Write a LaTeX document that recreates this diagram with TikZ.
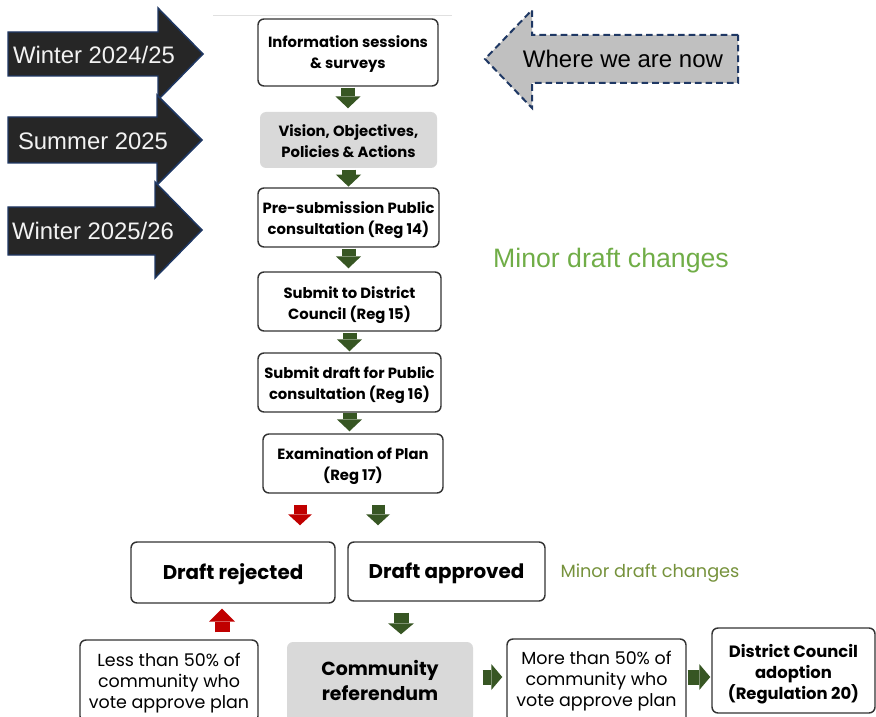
\documentclass[tikz,border=0pt]{standalone}
\usepackage{fontspec}
\setmainfont{Liberation Sans}
\newfontfamily\gothic{Poppins}
\usetikzlibrary{arrows.meta}
\definecolor{dkgreen}{HTML}{375623}
\definecolor{dkred}{HTML}{C00000}
\definecolor{lgreen}{HTML}{70AD47}
\definecolor{olive}{HTML}{76923C}
\definecolor{boxline}{HTML}{333333}
\definecolor{boxfill}{HTML}{D9D9D9}
\definecolor{navy}{HTML}{1F3864}
\definecolor{arrowfill}{HTML}{262626}
\definecolor{nowfill}{HTML}{C0C0C0}
\tikzset{
  sz/.style 2 args={minimum width=#1*0.75pt, minimum height=#2*0.75pt},
  box/.style={draw=boxline, line width=1.1pt, rounded corners=4.5pt, fill=white, inner sep=0pt},
  graybox/.style={box, draw=none, fill=boxfill},
  btext/.style={align=center, inner sep=0pt, font=\gothic\bfseries\fontsize{11.1}{15.75}\selectfont},
  bigtext/.style={btext, font=\gothic\bfseries\fontsize{14.9}{18}\selectfont},
  ptext/.style={btext, font=\gothic\fontsize{13.1}{15.75}\selectfont},
  gar/.style={draw=dkgreen, line width=10.5pt, -{Triangle[width=19pt,length=9pt,line width=0pt]}},
  gmid/.style={draw=dkgreen, line width=9.75pt, -{Triangle[width=18pt,length=8.25pt,line width=0pt]}},
  rmid/.style={draw=dkred, line width=9.75pt, -{Triangle[width=18pt,length=8.25pt,line width=0pt]}},
  gbig/.style={draw=dkgreen, line width=11.25pt, -{Triangle[width=19.5pt,length=8.25pt,line width=0pt]}},
  rbig/.style={draw=dkred, line width=11.25pt, -{Triangle[width=19.5pt,length=9.75pt,line width=0pt]}},
  timearrow/.style={fill=arrowfill, draw=navy, line width=1.1pt, line join=miter},
  timetext/.style={text=white!95!black, font=\fontsize{17.9}{20}\selectfont, inner sep=0pt},
}
\begin{document}
\begin{tikzpicture}[x=0.75pt,y=-0.75pt]
\useasboundingbox (0,0) rectangle (876,717);
% thin top line
\draw[draw=black!12, line width=0.6pt] (213,15) -- (452,15);
% timeline arrows
\draw[timearrow] (8,32) -- (158,32) -- (158,8) -- (203,54) -- (158,100) -- (158,76) -- (8,76) -- cycle;
\node[timetext] (t1) at (94,55) {Winter 2024/25};
\draw[timearrow] (8,117) -- (157,117) -- (157,95) -- (202,140) -- (157,185) -- (157,163) -- (8,163) -- cycle;
\node[timetext] (t2) at (93,141) {Summer 2025};
\draw[timearrow] (8,207) -- (155,207) -- (155,182) -- (202,230) -- (155,278) -- (155,255) -- (8,255) -- cycle;
\node[timetext] (t3) at (93,231) {Winter 2025/26};
% where we are now
\draw[fill=nowfill, draw=navy, line width=1.5pt, dash pattern=on 5pt off 3pt, line join=miter]
  (738,35) -- (532,35) -- (532,10) -- (485,59) -- (532,108) -- (532,83) -- (738,83) -- cycle;
\node[font=\fontsize{18}{20}\selectfont, inner sep=0pt] (now) at (623,59) {Where we are now};
% minor draft changes
\node[text=lgreen, font=\fontsize{20}{22}\selectfont, inner sep=0pt] (minor1) at (611,261) {Minor draft changes};
\node[text=olive, font=\gothic\fontsize{13.3}{15}\selectfont, inner sep=0pt] (minor2) at (650,573) {Minor draft changes};
% flow boxes
\node[box, sz={180}{67}] (b1) at (348,52.5) {};
\node[btext] (b1t) at ([yshift=-1.5pt]b1.center) {Information sessions\\\& surveys};
\node[graybox, sz={177}{56}] (b2) at (348.5,140) {};
\node[btext] (b2t) at ([yshift=-0.75pt]b2.center) {Vision, Objectives,\\Policies \& Actions};
\node[box, sz={181}{59}] (b3) at (348.5,217.5) {};
\node[btext] (b3t) at ([yshift=-2.25pt]b3.center) {Pre-submission Public\\consultation (Reg 14)};
\node[box, sz={183}{59}] (b4) at (349.5,301.5) {};
\node[btext] (b4t) at ([yshift=-2.6pt]b4.center) {Submit to District\\Council (Reg 15)};
\node[box, sz={183}{59}] (b5) at (349.5,382.5) {};
\node[btext] (b5t) at ([yshift=-2.25pt]b5.center) {Submit draft for Public\\consultation (Reg 16)};
\node[box, sz={180}{59}] (b6) at (353,463.5) {};
\node[btext] (b6t) at ([yshift=-1.9pt]b6.center) {Examination of Plan\\(Reg 17)};
\node[box, sz={204}{61}] (rej) at (233,572.5) {};
\node[bigtext] (rejt) at ([yshift=-1.5pt]rej.center) {Draft rejected};
\node[box, sz={197}{59}] (app) at (446.5,571.5) {};
\node[bigtext] (appt) at ([yshift=-1.5pt]app.center) {Draft approved};
\node[box, sz={178}{82}] (less) at (169,681) {};
\node[ptext] (lesst) at ([yshift=-1.5pt]less.center) {Less than 50\% of\\community who\\vote approve plan};
\node[graybox, sz={186}{80}] (ref) at (380,682) {};
\node[btext, font=\gothic\bfseries\fontsize{14.2}{18.75}\selectfont] (reft) at ([yshift=1.1pt]ref.center) {Community\\referendum};
\node[box, sz={179}{84}] (more) at (596.5,681) {};
\node[ptext] (moret) at (more.center) {More than 50\% of\\community who\\vote approve plan};
\node[box, sz={163}{85}] (dca) at (793.5,670.5) {};
\node[btext, font=\gothic\bfseries\fontsize{12.3}{15.75}\selectfont] (dcat) at ([yshift=-3pt]dca.center) {District Council\\adoption\\(Regulation 20)};
% connectors
\draw[gar, shorten <=0.75pt, shorten >=2.25pt] (b1.south) -- (b2.north -| b1.south);
\draw[gar, shorten <=0.75pt, shorten >=0.5pt] (b2.south) -- (b3.north -| b2.south);
\draw[gar, shorten <=0.75pt, shorten >=2.25pt] (b3.south) -- (b4.north -| b3.south);
\draw[gar, shorten <=0.75pt, shorten >=0.75pt] (b4.south) -- (b5.north -| b4.south);
\draw[gar, shorten <=0pt, shorten >=1.5pt] (b5.south) -- (b6.north -| b5.south);
\coordinate (rx) at (300,0);
\coordinate (gx) at (378,0);
\coordinate (gx2) at (401,0);
\coordinate (rx2) at (222,0);
\coordinate (ry) at (0,677);
\draw[rmid, shorten <=8.25pt, shorten >=12pt] (b6.south -| rx) -- (rej.north -| rx);
\draw[gmid, shorten <=8.25pt, shorten >=12pt] (b6.south -| gx) -- (app.north -| gx);
\draw[gbig, shorten <=8.25pt, shorten >=5.25pt] (app.south -| gx2) -- (ref.north -| gx2);
\draw[rbig, shorten <=5.25pt, shorten >=3.75pt] (less.north -| rx2) -- (rej.south -| rx2);
\draw[gbig, shorten <=6.75pt, shorten >=3pt] (ref.east |- ry) -- (more.west |- ry);
\draw[gbig, shorten <=0.75pt, shorten >=0.75pt] (more.east |- ry) -- (dca.west |- ry);
\end{tikzpicture}
\end{document}
